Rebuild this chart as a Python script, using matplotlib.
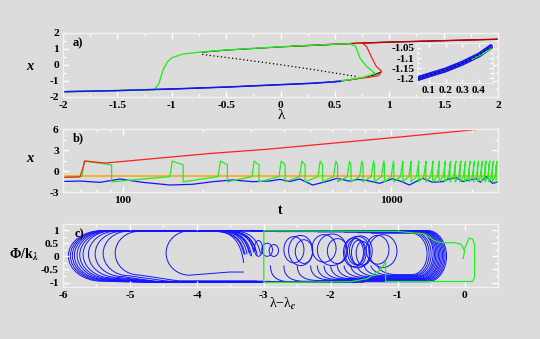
import numpy as np
import matplotlib
matplotlib.use("Agg")
import matplotlib.pyplot as plt
from matplotlib.path import Path
from matplotlib.patches import PathPatch, Ellipse
from matplotlib.ticker import MultipleLocator, LogLocator, NullFormatter, FixedLocator, FixedFormatter

# ── theme ─────────────────────────────────────────────────────────────────────
BG     = "#dcdcdc"
SPINE  = "#f2f2f2"
RED    = "#ff2020"
DKRED  = "#c00000"
GREEN  = "#22ee22"
BLUE   = "#1414ff"
ORANGE = "#ffa500"

plt.rcParams.update({
    "figure.facecolor": BG,
    "axes.facecolor": BG,
    "font.family": ["Liberation Serif", "DejaVu Serif"],
    "font.weight": "bold",
    "font.size": 8.2,
    "axes.unicode_minus": False,
    "mathtext.fontset": "stix",
})

# ── panel a : bifurcation diagram ─────────────────────────────────────────────
a_lower_lam = [-2.0, -1.5, -1.0, -0.5, 0.0, 0.3, 0.5, 0.64, 0.76, 0.85, 0.92]
a_lower_x   = [-1.67, -1.60, -1.50, -1.38, -1.23, -1.14, -1.05, -0.93, -0.79, -0.65, -0.45]
a_upper_lam = [-0.72, -0.5, 0.0, 0.5, 0.75, 1.0, 1.5, 2.0]
a_upper_x   = [0.80, 0.93, 1.13, 1.29, 1.37, 1.43, 1.52, 1.61]
a_unst_lam  = [-0.72, -0.35, 0.0, 0.35, 0.70]
a_unst_x    = [0.66, 0.34, 0.02, -0.34, -0.72]

a_blue_lam = [-2.0, -1.5, -1.0, -0.5, 0.0, 0.3, 0.55]
a_blue_x   = [-1.67, -1.60, -1.50, -1.38, -1.23, -1.14, -1.02]

a_green_lam = [-2.0, -1.5, -1.16, -1.12, -1.08, -1.04, -1.0, -0.9, -0.72, -0.5, 0.0, 0.5,
               0.64, 0.69, 0.73, 0.79, 0.87, 0.76, 0.6, 0.45]
a_green_x   = [-1.67, -1.60, -1.53, -1.20, -0.31, 0.20, 0.45, 0.68, 0.82, 0.94, 1.14, 1.30,
               1.33, 1.17, 0.44, -0.08, -0.54, -0.77, -0.95, -1.07]

a_red_lam = [0.1, 0.5, 0.75, 1.0, 1.5, 2.0]
a_red_x   = [1.17, 1.30, 1.37, 1.43, 1.52, 1.61]
a_reddrop_lam = [0.70, 0.75, 0.79, 0.84, 0.88, 0.93, 0.90, 0.80, 0.6, 0.5]
a_reddrop_x   = [1.36, 1.37, 1.17, 0.44, -0.08, -0.40, -0.67, -0.78, -0.95, -1.04]

# inset (zoom of the lower branch)
in_lam  = [0.035, 0.1, 0.2, 0.3, 0.4, 0.47]
in_x    = [-1.200, -1.183, -1.158, -1.125, -1.085, -1.045]
in_grn_lam = [0.36, 0.42, 0.47]
in_grn_x   = [-1.105, -1.080, -1.055]

# ── panel b : time series ─────────────────────────────────────────────────────
b_red_t = [60, 67, 69.4, 71.4, 72.4, 86, 211, 353, 1105, 2163]
b_red_x = [-0.90, -0.86, -0.81, 0.62, 1.43, 1.14, 2.50, 3.14, 4.90, 6.00]
b_orange_t = [60, 2500]
b_orange_x = [-0.75, -0.75]

b_green_t0 = [60, 67]
b_green_x0 = [-0.90, -0.86]
b_rise = [70.5, 150, 226.7, 303, 382, 456, 533.5, 610, 686, 762.6, 842.7, 920, 1000,
          1083, 1163, 1242, 1322, 1404, 1483, 1561, 1633, 1709, 1784, 1857, 1933,
          2005, 2076, 2148, 2217, 2287, 2360, 2436]
b_drop = [91, 168, 245.6, 322, 402.9, 478.2, 555.4, 631.7, 708.6, 785.8, 865.7, 943.5,
          1024, 1106, 1186, 1266, 1346, 1427, 1506, 1583, 1656, 1731, 1805, 1879, 1955,
          2026, 2097, 2168, 2238, 2308, 2382, 2459]
b_green_pre, b_green_high, b_green_end, b_green_low = -0.8, 1.42, 0.88, -1.55

b_blue_t = [60, 69.3, 82.4, 97.7, 119, 150, 182, 217, 257, 305, 353, 385, 419, 457, 510,
            590, 627, 700, 750, 810, 906, 1012, 1092, 1169, 1307, 1424, 1552, 1648, 1749,
            1841, 1955, 2077, 2149, 2262, 2382, 2483]
b_blue_x = [-1.50, -1.43, -1.62, -1.14, -1.62, -2.00, -1.90, -1.52, -1.28, -1.52, -1.43,
            -1.19, -1.50, -1.14, -2.00, -1.38, -1.04, -1.45, -1.20, -1.35, -1.76, -1.10,
            -1.50, -2.00, -1.04, -1.60, -1.52, -1.10, -0.95, -1.50, -1.28, -1.10, -1.60,
            -0.80, -1.76, -1.60]

# ── panel c : phase portrait ──────────────────────────────────────────────────
# big left orbits: cusp (xc, yc) -> top -> round left end -> bottom -> (xb, yb2)
c_left_x0 = [-5.92, -5.89, -5.86, -5.83, -5.79, -5.75, -5.70, -5.62, -5.52, -5.40, -5.22, -4.46]
c_left_xc = [-3.05, -3.10, -3.15, -3.20, -3.25, -3.12, -3.18, -3.22, -3.28, -3.15, -3.30, -3.30]
c_left_yc = [0.10, 0.05, 0.15, 0.02, 0.08, 0.20, 0.00, 0.12, 0.05, 0.25, 0.10, -0.25]
c_left_yt = [0.98, 0.97, 0.97, 0.96, 0.97, 0.96, 0.97, 0.96, 0.95, 0.96, 0.95, 0.97]
c_left_yb = [-0.95, -0.93, -0.91, -0.89, -0.87, -0.85, -0.83, -0.80, -0.77, -0.74, -0.71, -0.72]
c_left_yb2 = [-0.99, -0.98, -0.97, -0.985, -0.96, -0.975, -0.95, -0.965, -0.99, -0.955, -0.94, -0.60]
c_left_xb = [-1.6, -2.0, -2.4, -1.8, -2.8, -2.2, -3.0, -2.6, -1.5, -2.9, -3.1, -3.3]
c_left_r0 = [0.50, 0.49, 0.48, 0.47, 0.46, 0.45, 0.44, 0.42, 0.40, 0.38, 0.35, 0.35]

# right orbits: top from x0 -> round right end -> bottom back to xe
c_right_x0 = [-3.6, -3.5, -3.4, -3.3, -3.2, -3.0, -2.8, -2.6, -2.4, -2.2, -2.0, -1.8, -1.6, -1.4]
c_right_x1 = [-0.27, -0.29, -0.31, -0.33, -0.35, -0.37, -0.39, -0.41, -0.43, -0.45, -0.47, -0.50, -0.53, -0.56]
c_right_xe = [-2.6, -2.4, -2.2, -2.0, -1.9, -1.8, -1.7, -1.6, -1.5, -1.4, -1.3, -1.2, -1.1, -1.0]
c_right_yt = [0.98, 0.97, 0.96, 0.97, 0.95, 0.96, 0.94, 0.97, 0.95, 0.93, 0.96, 0.92, 0.90, 0.88]
c_right_yb = [-0.97, -0.95, -0.92, -0.90, -0.88, -0.86, -0.85, -0.83, -0.80, -0.78, -0.76, -0.74, -0.72, -0.70]
c_right_r1 = [0.28, 0.28, 0.27, 0.27, 0.26, 0.26, 0.25, 0.25, 0.25, 0.24, 0.24, 0.24, 0.23, 0.23]

# small loops (teardrops) in the middle
c_loop_cx = [-3.08, -2.95, -2.85, -2.55, -2.45, -2.40, -2.10, -1.98, -1.90, -1.66, -1.62,
             -1.58, -1.55, -1.52, -1.60, -1.30, -1.22]
c_loop_cy = [0.30, 0.25, 0.22, 0.25, 0.22, 0.18, 0.30, 0.25, 0.20, 0.15, 0.18, 0.14, 0.20,
             0.12, 0.16, 0.25, 0.20]
c_loop_w  = [0.12, 0.16, 0.14, 0.30, 0.36, 0.26, 0.36, 0.44, 0.30, 0.30, 0.26, 0.22, 0.34,
             0.20, 0.38, 0.34, 0.42]
c_loop_h  = [0.60, 0.50, 0.45, 1.00, 1.15, 0.90, 1.05, 1.20, 0.95, 1.10, 1.00, 0.95, 1.15,
             0.90, 1.20, 1.10, 1.25]

c_green_x = [-0.02, 0.00, -0.05, -0.15, -0.35, -0.45, -0.60, -1.00, -3.00, -3.00, -1.70,
             -1.45, -1.25, -1.18, -1.18, 0.12, 0.15, 0.15, 0.12, 0.07, 0.00]
c_green_y = [-0.08, 0.20, 0.45, 0.52, 0.52, 0.60, 0.85, 0.95, 0.97, -1.00, -0.97,
             -0.85, -0.50, -0.20, -0.96, -0.96, -0.80, 0.45, 0.65, 0.70, 0.30]

K = 0.5523
C4 = Path.CURVE4


def left_orbit(x0, xc, yc, yt, yb, yb2, xb, r0):
    ym, ry = (yb + yt) / 2, (yt - yb) / 2
    verts = [(xc, yc),
             (xc - 0.04, yc + 0.6 * (yt - yc)), (xc - 0.15, yt), (xc - 0.45, yt),
             (x0 + r0, yt),
             (x0 + r0 - K * r0, yt), (x0, ym + K * ry), (x0, ym),
             (x0, ym - K * ry), (x0 + r0 - K * r0, yb), (x0 + r0, yb),
             (x0 + r0 + 0.6, yb2), (xb, yb2)]
    codes = [Path.MOVETO, C4, C4, C4, Path.LINETO, C4, C4, C4, C4, C4, C4,
             Path.LINETO, Path.LINETO]
    return Path(verts, codes)


def right_orbit(x0, x1, xe, yt, yb, r1):
    ym, ry = (yb + yt) / 2, (yt - yb) / 2
    verts = [(x0, yt), (x1 - r1, yt),
             (x1 - r1 + K * r1, yt), (x1, ym + K * ry), (x1, ym),
             (x1, ym - K * ry), (x1 - r1 + K * r1, yb), (x1 - r1, yb),
             (xe, yb),
             (xe - 0.25, yb), (xe - 0.3, yb + 0.3), (xe - 0.3, -0.35)]
    codes = [Path.MOVETO, Path.LINETO, C4, C4, C4, C4, C4, C4, Path.LINETO, C4, C4, C4]
    return Path(verts, codes)


def style(ax):
    ax.set_facecolor(BG)
    for s in ax.spines.values():
        s.set_color(SPINE)
        s.set_linewidth(1.0)
    ax.tick_params(which="both", direction="in", colors="white", labelcolor="black",
                   top=True, right=True, width=1.0)
    ax.tick_params(which="major", length=4, pad=3)
    ax.tick_params(which="minor", length=2)


fig = plt.figure(figsize=(5.4, 3.39), dpi=100)

# panel a
ax1 = fig.add_axes([0.1167, 0.7139, 0.8056, 0.1888])
ax1.plot(a_lower_lam, a_lower_x, color="black", lw=0.8)
ax1.plot(a_upper_lam, a_upper_x, color="black", lw=0.8)
ax1.plot(a_unst_lam, a_unst_x, color="black", lw=0.9, ls=(0, (1, 2)))
ax1.plot(a_red_lam, a_red_x, color=DKRED, lw=1.0)
ax1.plot(a_reddrop_lam, a_reddrop_x, color=RED, lw=0.9)
ax1.plot(a_green_lam, a_green_x, color=GREEN, lw=1.0)
ax1.plot(a_blue_lam, a_blue_x, color=BLUE, lw=1.1)
ax1.set_xlim(-2, 2)
ax1.set_ylim(-2, 2)
ax1.set_xticks([-2, -1.5, -1, -0.5, 0, 0.5, 1, 1.5, 2])
ax1.set_xticklabels(["-2", "-1.5", "-1", "-0.5", "0", "0.5", "1", "1.5", "2"])
ax1.set_yticks([-2, -1, 0, 1, 2])
ax1.set_yticklabels(["-2", "-1", "0", "1", "2"])
ax1.xaxis.set_minor_locator(MultipleLocator(0.25))
ax1.yaxis.set_minor_locator(MultipleLocator(0.5))
style(ax1)
ax1.text(0.022, 0.93, "a)", transform=ax1.transAxes, fontsize=9, va="top")

# inset
axi = fig.add_axes([0.7722, 0.7552, 0.1407, 0.118])
axi.plot(in_lam, [v + 0.008 for v in in_x], color=BLUE, lw=1.0)
axi.plot(in_lam, [v - 0.008 for v in in_x], color=BLUE, lw=1.0)
axi.plot(in_lam, in_x, color=BLUE, lw=3.5, alpha=0.85)
axi.plot(in_grn_lam, in_grn_x, color=GREEN, lw=1.0)
axi.plot(in_lam, in_x, color="black", lw=0.6, ls=(0, (3, 2)))
axi.set_xlim(0.028, 0.484)
axi.set_ylim(-1.222, -1.026)
axi.set_xticks([0.1, 0.2, 0.3, 0.4])
axi.set_xticklabels(["0.1", "0.2", "0.3", "0.4"])
axi.set_yticks([-1.2, -1.15, -1.1, -1.05])
axi.set_yticklabels(["-1.2", "-1.15", "-1.1", "-1.05"])
axi.yaxis.set_minor_locator(MultipleLocator(0.025))
style(axi)
axi.tick_params(which="major", length=3, pad=2, labelsize=8)
for s in axi.spines.values():
    s.set_linewidth(0.6)

# panel b
ax2 = fig.add_axes([0.1167, 0.4336, 0.8056, 0.1858])
ax2.set_xscale("log")
g_t = list(b_green_t0)
g_x = list(b_green_x0)
for r, d in zip(b_rise, b_drop):
    g_t += [r, r * 1.02, d, d]
    g_x += [b_green_pre, b_green_high, b_green_end, b_green_low]
ax2.plot(b_orange_t, b_orange_x, color=ORANGE, lw=1.1)
ax2.plot(b_blue_t, b_blue_x, color=BLUE, lw=0.9)
ax2.plot(g_t, g_x, color=GREEN, lw=0.9)
ax2.plot(b_red_t, b_red_x, color=RED, lw=0.9)
ax2.set_xlim(60, 2500)
ax2.set_ylim(-3, 6)
ax2.xaxis.set_major_locator(FixedLocator([100, 1000]))
ax2.xaxis.set_major_formatter(FixedFormatter(["100", "1000"]))
ax2.xaxis.set_minor_locator(LogLocator(base=10, subs=np.arange(2, 10)))
ax2.xaxis.set_minor_formatter(NullFormatter())
ax2.yaxis.set_major_locator(MultipleLocator(3))
ax2.yaxis.set_minor_locator(MultipleLocator(1.5))
style(ax2)
ax2.text(0.022, 0.95, "b)", transform=ax2.transAxes, fontsize=9, va="top")

# panel c
ax3 = fig.add_axes([0.1167, 0.1534, 0.8056, 0.1858])
for i in range(len(c_left_x0)):
    p = left_orbit(c_left_x0[i], c_left_xc[i], c_left_yc[i], c_left_yt[i],
                   c_left_yb[i], c_left_yb2[i], c_left_xb[i], c_left_r0[i])
    ax3.add_patch(PathPatch(p, fill=False, ec=BLUE, lw=0.7))
for i in range(len(c_right_x0)):
    p = right_orbit(c_right_x0[i], c_right_x1[i], c_right_xe[i], c_right_yt[i],
                    c_right_yb[i], c_right_r1[i])
    ax3.add_patch(PathPatch(p, fill=False, ec=BLUE, lw=0.7))
for cx, cy, w, h in zip(c_loop_cx, c_loop_cy, c_loop_w, c_loop_h):
    ax3.add_patch(Ellipse((cx, cy), w, h, fill=False, ec=BLUE, lw=0.7))
ax3.plot(c_green_x, c_green_y, color=GREEN, lw=0.9)
ax3.set_xlim(-6, 0.5)
ax3.set_ylim(-1.17, 1.23)
ax3.set_xticks([-6, -5, -4, -3, -2, -1, 0])
ax3.set_xticklabels(["-6", "-5", "-4", "-3", "-2", "-1", "0"])
ax3.set_yticks([-1, -0.5, 0, 0.5, 1])
ax3.set_yticklabels(["-1", "-0.5", "0", "0.5", "1"])
ax3.xaxis.set_minor_locator(MultipleLocator(0.5))
ax3.yaxis.set_minor_locator(MultipleLocator(0.25))
style(ax3)
ax3.text(0.026, 0.93, "c)", transform=ax3.transAxes, fontsize=9, va="top")


# axis labels (figure-pixel placement)
def ftext(px, py, s, **kw):
    fig.text(px / 540, 1 - py / 339, s, ha="center", va="center", **kw)


ftext(30, 66, "x", fontsize=10.5, style="italic")
ftext(281, 116, "λ", fontsize=11, fontweight="normal")
ftext(30, 158, "x", fontsize=10.5, style="italic")
ftext(280, 210, "t", fontsize=10)
ftext(24, 255, r"Φ/k$_{\lambda}$", fontsize=10)
ftext(283, 304, r"λ−λ$_{c}$", fontsize=10, fontweight="normal")

fig.savefig("out.png", dpi=100, facecolor=BG)
